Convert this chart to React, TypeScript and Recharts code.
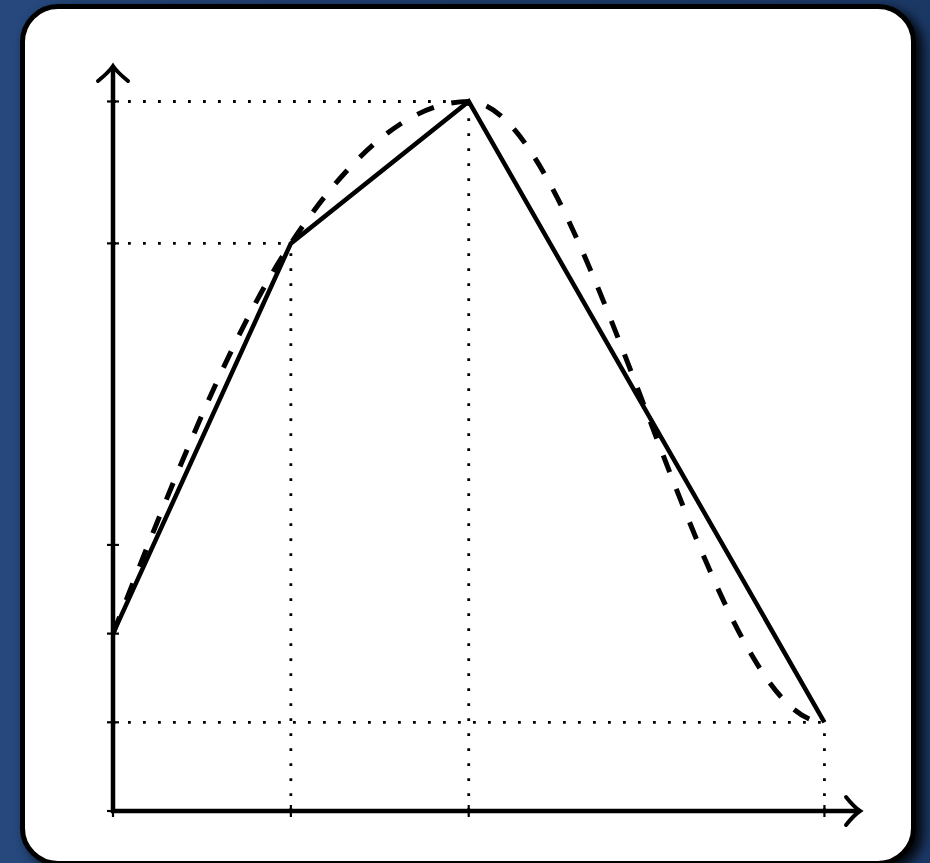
import { LineChart, Line, XAxis, YAxis, ReferenceLine } from "recharts";

// --- Data ---

const xValues = [0, 1, 2, 4];
const yValues = [2, 6.4, 8, 1];
const xTicks = [0, 1, 2, 4];
const yTicks = [0, 1, 2, 3, 6.4, 8];
const xDomain: [number, number] = [0, 4.2];
const yDomain: [number, number] = [0, 8.4];

const points = xValues.map((x, i) => ({ x, y: yValues[i] }));
// every point off the y axis gets dotted guides back to both axes
const guidePoints = points.filter((p) => p.x > 0);

// --- Helpers ---

/** Monotone cubic (d3 rule for inner points), with the last point held flat. */
function flatEndMonotone(context: any) {
  let xs: number[] = [];
  let ys: number[] = [];
  return {
    areaStart() {},
    areaEnd() {},
    lineStart() {
      xs = [];
      ys = [];
    },
    point(x: number, y: number) {
      xs.push(+x);
      ys.push(+y);
    },
    lineEnd() {
      const n = xs.length;
      if (n === 0) return;
      context.moveTo(xs[0], ys[0]);
      if (n === 1) return;
      const h: number[] = [];
      const s: number[] = [];
      for (let i = 0; i < n - 1; i++) {
        h.push(xs[i + 1] - xs[i]);
        s.push((ys[i + 1] - ys[i]) / h[i]);
      }
      const t: number[] = new Array(n).fill(0);
      for (let i = 1; i < n - 1; i++) {
        const p = (s[i - 1] * h[i] + s[i] * h[i - 1]) / (h[i - 1] + h[i]);
        t[i] =
          (Math.sign(s[i - 1]) + Math.sign(s[i])) *
            Math.min(Math.abs(s[i - 1]), Math.abs(s[i]), 0.5 * Math.abs(p)) || 0;
      }
      t[0] = n > 2 ? (3 * s[0] - t[1]) / 2 : s[0];
      t[n - 1] = 0;
      for (let i = 0; i < n - 1; i++) {
        const d = h[i] / 3;
        context.bezierCurveTo(
          xs[i] + d,
          ys[i] + d * t[i],
          xs[i + 1] - d,
          ys[i + 1] - d * t[i + 1],
          xs[i + 1],
          ys[i + 1]
        );
      }
    },
  };
}

function XTick({ x, y }: { x?: number; y?: number }) {
  const cx = x ?? 0;
  const cy = y ?? 0;
  return <line x1={cx} x2={cx} y1={cy - 6} y2={cy + 6} stroke="#000" strokeWidth={2.2} />;
}

function YTick({ x, y }: { x?: number; y?: number }) {
  const cx = x ?? 0;
  const cy = y ?? 0;
  return <line x1={cx - 6} x2={cx + 6} y1={cy} y2={cy} stroke="#000" strokeWidth={2.2} />;
}

// axis line with a curved "->" head at its far end
function ArrowAxis(props: any) {
  const { x1, y1, x2, y2 } = props;
  const vertical = Math.abs(x1 - x2) < 1;
  let d: string;
  let line: { x1: number; y1: number; x2: number; y2: number };
  if (vertical) {
    const tx = x1;
    const ty = Math.min(y1, y2);
    const by = Math.max(y1, y2) + 2;
    line = { x1: tx, y1: by, x2: tx, y2: ty + 1 };
    d = `M ${tx - 15} ${ty + 15} Q ${tx - 4} ${ty + 6} ${tx} ${ty} Q ${tx + 4} ${ty + 6} ${tx + 15} ${ty + 15}`;
  } else {
    const tx = Math.max(x1, x2);
    const ty = y1;
    const bx = Math.min(x1, x2) - 2;
    line = { x1: bx, y1: ty, x2: tx - 1, y2: ty };
    d = `M ${tx - 14} ${ty - 14} Q ${tx - 6} ${ty - 4} ${tx} ${ty} Q ${tx - 6} ${ty + 4} ${tx - 14} ${ty + 14}`;
  }
  return (
    <g>
      <line {...line} stroke="#000" strokeWidth={4.5} />
      <path d={d} fill="none" stroke="#000" strokeWidth={4} strokeLinecap="round" />
    </g>
  );
}

// --- Main component ---

export default function App() {
  return (
    <div
      style={{
        position: "fixed",
        left: 0,
        top: 0,
        width: 930,
        height: 863,
        overflow: "hidden",
        background: "linear-gradient(90deg, #26487d 0%, #1f3f70 45%, #1b3865 100%)",
      }}
    >
      <div
        style={{
          position: "absolute",
          left: 20,
          top: 4,
          width: 896,
          height: 862,
          boxSizing: "border-box",
          border: "5px solid #000",
          borderRadius: 38,
          background: "#fff",
          boxShadow: "7px 5px 12px rgba(0,0,0,0.9)",
        }}
      />
      <div style={{ position: "absolute", left: 0, top: 0 }}>
        <LineChart
          width={930}
          height={863}
          data={points}
          margin={{ top: 66, right: 70, bottom: 22, left: 53 }}
        >
          <XAxis
            dataKey="x"
            type="number"
            domain={xDomain}
            ticks={xTicks}
            axisLine={false}
            tickLine={false}
            tickSize={0}
            tickMargin={0}
            tick={<XTick />}
            interval={0}
          />
          <YAxis
            type="number"
            domain={yDomain}
            ticks={yTicks}
            axisLine={false}
            tickLine={false}
            tickSize={0}
            tickMargin={0}
            tick={<YTick />}
            interval={0}
          />
          {guidePoints.map((p) => (
            <ReferenceLine
              key={`h-${p.x}`}
              segment={[
                { x: 0, y: p.y },
                { x: p.x, y: p.y },
              ]}
              stroke="#000"
              strokeWidth={2.8}
              strokeDasharray="2.8 12.2"
            />
          ))}
          {guidePoints.map((p) => (
            <ReferenceLine
              key={`v-${p.x}`}
              segment={[
                { x: p.x, y: 0 },
                { x: p.x, y: p.y },
              ]}
              stroke="#000"
              strokeWidth={2.8}
              strokeDasharray="2.8 12.2"
            />
          ))}
          <Line
            dataKey="y"
            type={flatEndMonotone as any}
            stroke="#000"
            strokeWidth={5}
            strokeDasharray="18 18"
            dot={false}
            activeDot={false}
            isAnimationActive={false}
          />
          <Line
            dataKey="y"
            type="linear"
            stroke="#000"
            strokeWidth={4.5}
            strokeLinejoin="miter"
            dot={false}
            activeDot={false}
            isAnimationActive={false}
          />
          <ReferenceLine y={0} shape={ArrowAxis} />
          <ReferenceLine x={0} shape={ArrowAxis} />
        </LineChart>
      </div>
    </div>
  );
}
